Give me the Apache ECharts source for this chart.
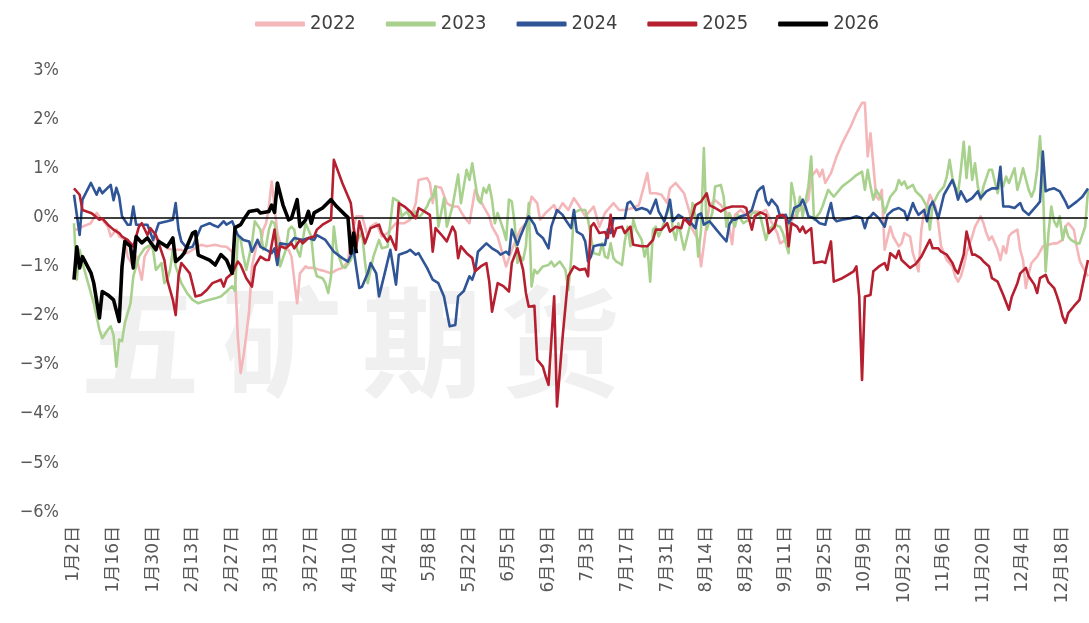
<!DOCTYPE html>
<html>
<head>
<meta charset="utf-8">
<script src="https://cdn.jsdelivr.net/npm/echarts@6/dist/echarts.min.js"></script>
<style>html,body{margin:0;padding:0;background:#fff;}#c{width:1089px;height:623px;}</style>
</head>
<body>
<div id="c"></div>
<script>
// Categories: calendar days (non-leap year) starting 1月2日, 360 days
const startMonth = 1, startDay = 2, dayCount = 360;
const labelStep = 14;
const seriesNames = ['2022', '2023', '2024', '2025', '2026'];
const yTicks = [-6, -5, -4, -3, -2, -1, 0, 1, 2, 3];

// Values in %, as [day index from 1月2日, value]
const s2022 = [[0,-0.25],[1,-0.25],[3,-0.19],[6,-0.12],[8,0.09],[10,-0.05],[12,-0.19],[13,-0.39],[15,-0.25],[16,-0.39],[18,-0.46],[19,-0.8],[21,-1.0],[22,-0.8],[24,-1.27],[25,-0.8],[27,-0.59],[29,-0.39],[31,-0.53],[33,-0.63],[35,-0.66],[38,-0.66],[40,-0.73],[42,-0.66],[45,-0.56],[47,-0.59],[50,-0.56],[52,-0.59],[54,-0.6],[56,-0.7],[57,-1.14],[58,-2.43],[59,-3.17],[60,-2.83],[61,-2.4],[62,-1.9],[63,-1.0],[65,-0.46],[66,-0.59],[67,-0.25],[68,-0.12],[69,0.22],[70,0.73],[71,0.22],[72,-0.32],[73,-0.53],[75,-0.66],[76,-0.66],[77,-0.8],[79,-1.75],[80,-1.14],[82,-1.0],[83,-1.03],[85,-1.03],[87,-1.07],[89,-1.1],[91,-1.14],[93,-1.07],[95,-1.03],[97,-0.9],[98,-0.39],[100,0.02],[102,0.02],[104,-0.39],[105,-0.19],[107,-0.12],[109,-0.39],[111,-0.32],[112,-0.25],[114,-0.12],[117,-0.12],[119,-0.05],[121,0.29],[122,0.76],[125,0.8],[126,0.7],[127,0.29],[128,0.63],[130,0.6],[132,0.29],[134,0.22],[136,0.22],[138,0.02],[140,-0.12],[141,0.22],[142,0.56],[145,0.22],[147,0.02],[148,-0.19],[150,-0.39],[152,-0.8],[153,-1.0],[155,-0.66],[157,-0.39],[158,-0.25],[160,-0.12],[162,0.42],[164,0.29],[165,-0.05],[167,0.09],[170,0.25],[171,0.09],[173,0.29],[175,0.15],[177,0.39],[179,0.22],[181,0.02],[184,0.22],[186,-0.19],[188,0.09],[191,0.29],[193,0.15],[195,0.15],[198,0.19],[200,0.25],[203,0.9],[204,0.49],[206,0.49],[208,0.46],[210,0.29],[211,0.59],[213,0.7],[214,0.63],[216,0.49],[218,0.09],[219,-0.25],[221,-0.46],[222,-1.0],[224,-0.12],[225,0.25],[227,0.35],[229,0.25],[231,0.1],[233,-0.55],[234,0.05],[236,0.15],[238,0.05],[240,0.12],[242,0.12],[243,0.09],[245,0.15],[246,0.02],[247,-0.1],[249,-0.32],[250,-0.53],[252,-0.46],[253,-0.15],[256,0.09],[258,0.22],[260,0.36],[261,0.83],[263,0.97],[264,0.83],[265,0.97],[266,0.7],[268,0.9],[270,1.24],[272,1.51],[275,1.85],[277,2.12],[279,2.33],[280,2.33],[281,1.24],[282,1.71],[284,0.42],[285,0.36],[286,0.56],[287,-0.66],[289,-0.19],[290,-0.39],[292,-0.59],[293,-0.53],[294,-0.32],[296,-0.39],[297,-0.73],[299,-1.1],[300,-0.25],[301,0.12],[302,0.22],[303,0.46],[305,0.22],[306,-0.12],[307,-0.59],[308,-0.73],[309,-0.87],[311,-1.0],[312,-1.2],[313,-1.31],[314,-1.2],[315,-1.0],[316,-0.73],[318,-0.39],[319,-0.19],[321,0.02],[322,-0.12],[323,-0.32],[324,-0.46],[325,-0.39],[327,-0.66],[328,-0.87],[329,-0.59],[330,-0.73],[331,-0.39],[332,-0.32],[334,-0.25],[335,-0.66],[336,-0.87],[337,-1.44],[338,-1.14],[339,-0.93],[341,-0.8],[342,-0.7],[343,-0.59],[345,-0.56],[347,-0.53],[348,-0.53],[350,-0.46],[351,-0.19],[352,-0.12],[354,-0.25],[355,-0.59],[356,-0.87],[357,-1.0],[359,-1.2]];

const s2023 = [[0,-0.12],[1,-1.27],[2,-0.66],[3,-0.93],[5,-1.34],[7,-1.75],[9,-2.29],[10,-2.46],[12,-2.29],[13,-2.22],[14,-2.4],[15,-3.04],[16,-2.49],[17,-2.52],[18,-2.15],[20,-1.75],[21,-1.2],[23,-0.8],[25,-0.63],[27,-0.56],[28,-0.66],[29,-1.07],[31,-0.93],[32,-1.34],[33,-1.27],[34,-1.07],[35,-0.66],[36,-1.0],[38,-1.34],[40,-1.54],[42,-1.68],[44,-1.75],[46,-1.71],[48,-1.68],[50,-1.65],[52,-1.61],[54,-1.51],[56,-1.4],[57,-1.5],[58,-0.39],[59,-0.45],[60,-0.8],[61,-1.07],[63,-0.53],[64,-0.08],[66,-0.25],[67,-0.66],[68,-0.59],[69,-0.25],[70,-0.08],[71,-0.12],[72,-0.46],[73,-1.0],[75,-0.66],[76,-0.25],[77,-0.19],[78,-0.25],[79,-0.66],[80,-0.8],[81,-0.46],[82,-0.12],[84,-0.39],[85,-1.0],[86,-1.2],[88,-1.24],[89,-1.34],[90,-1.54],[91,-1.2],[92,-0.19],[93,-0.66],[95,-1.0],[96,-1.03],[98,-0.87],[100,-0.5],[102,-0.3],[103,-0.9],[104,-1.34],[106,-0.8],[108,-0.46],[109,-0.63],[111,-0.6],[113,0.39],[115,0.32],[116,0.02],[118,0.12],[119,-0.02],[121,0.12],[122,0.0],[123,0.05],[125,0.22],[126,0.36],[127,0.42],[128,0.63],[129,-0.19],[130,0.09],[131,0.39],[132,-0.19],[134,0.22],[136,0.87],[137,0.29],[138,0.63],[139,0.97],[140,0.76],[141,1.1],[143,0.36],[144,0.29],[145,0.6],[146,0.5],[147,0.66],[148,0.36],[149,-0.12],[150,0.09],[152,-0.25],[153,-0.46],[154,0.36],[155,0.32],[156,-0.12],[157,-0.93],[158,-0.8],[159,-0.87],[160,-0.59],[161,0.29],[162,-1.41],[163,-1.07],[164,-1.14],[166,-1.0],[168,-0.97],[169,-0.9],[170,-1.0],[172,-0.9],[174,-1.07],[175,-1.48],[176,-0.87],[177,0.09],[179,0.15],[181,0.15],[182,-0.05],[183,-0.39],[184,-0.73],[186,-0.76],[187,-0.53],[188,-0.8],[189,-0.83],[190,-0.53],[191,-0.83],[192,-0.9],[193,-0.93],[194,-0.97],[195,-0.49],[196,-0.19],[197,-0.59],[198,-0.05],[199,-0.25],[201,-0.46],[202,-0.8],[203,-0.59],[204,-1.31],[205,-0.25],[206,-0.19],[207,-0.39],[208,-0.25],[210,0.09],[211,0.29],[212,-0.25],[213,-0.46],[214,-0.12],[215,-0.39],[216,-0.66],[218,-0.19],[219,0.29],[220,0.02],[221,-0.8],[222,-0.25],[223,1.41],[224,-0.25],[226,0.09],[227,0.63],[229,0.66],[230,0.42],[231,-0.19],[232,0.09],[234,-0.19],[235,0.05],[237,-0.12],[238,-0.08],[239,-0.05],[240,0.09],[242,0.09],[243,0.02],[245,-0.46],[246,-0.25],[248,-0.15],[250,-0.19],[251,-0.32],[253,-0.73],[254,0.7],[255,0.42],[256,0.02],[257,0.42],[258,0.02],[260,0.63],[261,1.24],[262,-0.05],[264,0.09],[265,0.22],[267,0.56],[269,0.42],[272,0.63],[275,0.76],[277,0.86],[279,0.93],[280,0.56],[281,0.97],[282,0.63],[283,0.36],[284,0.56],[286,0.36],[287,0.09],[289,0.42],[291,0.56],[292,0.76],[293,0.66],[294,0.73],[295,0.59],[297,0.66],[298,0.53],[300,0.42],[302,0.22],[303,-0.25],[304,0.25],[306,0.49],[308,0.63],[309,0.83],[310,1.17],[311,0.8],[312,0.63],[313,0.49],[314,0.97],[315,1.54],[316,0.8],[317,1.44],[318,0.76],[319,1.1],[320,0.63],[321,0.36],[322,0.63],[324,0.97],[325,0.97],[326,0.73],[327,0.49],[328,0.76],[329,0.63],[330,0.83],[331,0.7],[333,1.0],[334,0.56],[335,0.76],[336,1.0],[338,0.56],[339,0.42],[340,0.56],[341,0.97],[342,1.65],[343,0.7],[344,-1.1],[345,-0.32],[346,0.22],[347,-0.08],[348,-0.19],[349,0.02],[350,-0.46],[351,-0.19],[352,-0.39],[353,-0.46],[355,-0.53],[356,-0.53],[358,-0.19],[359,0.56]];

const s2024 = [[0,0.46],[2,-0.36],[3,0.36],[6,0.7],[8,0.46],[9,0.6],[10,0.49],[13,0.66],[14,0.35],[15,0.6],[16,0.42],[17,0.02],[19,-0.15],[20,-0.15],[21,0.22],[22,-0.15],[26,-0.15],[28,-0.46],[30,-0.12],[33,-0.08],[35,-0.05],[36,0.29],[37,-0.25],[38,-0.49],[40,-0.63],[42,-0.6],[45,-0.19],[48,-0.12],[49,-0.15],[51,-0.2],[53,-0.08],[54,-0.15],[56,-0.08],[58,-0.36],[60,-0.46],[62,-0.49],[63,-0.7],[65,-0.46],[66,-0.6],[68,-0.66],[70,-0.73],[71,-0.63],[72,-0.97],[73,-0.53],[76,-0.56],[78,-0.42],[81,-0.46],[83,-0.42],[85,-0.46],[86,-0.36],[89,-0.46],[92,-0.7],[95,-0.83],[97,-0.9],[99,-0.66],[101,-1.44],[102,-1.41],[104,-1.14],[105,-0.93],[107,-1.14],[108,-1.61],[110,-1.14],[112,-0.66],[114,-1.37],[115,-0.76],[118,-0.7],[119,-0.66],[121,-0.76],[122,-0.73],[123,-0.83],[125,-1.03],[127,-1.27],[129,-1.34],[131,-1.61],[133,-2.22],[135,-2.19],[136,-1.61],[138,-1.5],[140,-1.2],[141,-1.27],[142,-1.1],[143,-0.7],[146,-0.53],[148,-0.63],[150,-0.7],[151,-0.76],[153,-0.7],[154,-0.76],[155,-0.25],[157,-0.56],[158,-0.39],[161,0.02],[163,-0.15],[164,-0.32],[166,-0.42],[168,-0.63],[169,-0.19],[171,0.15],[173,0.05],[174,-0.05],[176,-0.22],[177,0.15],[178,-0.29],[180,-0.36],[181,-0.49],[182,-0.9],[183,-0.8],[184,-0.59],[186,-0.56],[188,-0.56],[189,-0.25],[190,-0.32],[191,-0.02],[193,-0.02],[195,-0.02],[196,0.29],[197,0.32],[199,0.15],[201,0.19],[203,0.15],[204,0.08],[206,0.36],[207,0.12],[209,-0.08],[210,0.12],[211,0.36],[212,-0.08],[214,0.05],[216,-0.02],[218,-0.08],[220,-0.22],[221,0.05],[222,0.08],[223,-0.15],[225,-0.08],[227,-0.22],[229,-0.36],[231,-0.49],[232,-0.15],[233,-0.05],[234,-0.05],[236,0.02],[238,0.05],[240,0.15],[242,0.53],[243,0.59],[244,0.63],[245,0.34],[246,0.25],[247,0.36],[249,0.22],[250,0.02],[252,0.05],[253,-0.12],[254,-0.02],[255,0.19],[257,0.25],[258,0.36],[259,0.22],[260,0.02],[262,-0.02],[264,-0.12],[266,-0.15],[267,0.09],[268,0.29],[269,-0.02],[270,-0.08],[272,-0.05],[275,-0.02],[277,0.02],[279,-0.02],[280,-0.22],[281,-0.02],[282,0.02],[283,0.09],[285,-0.02],[287,-0.19],[288,0.05],[290,0.15],[292,0.19],[294,0.12],[295,-0.05],[297,0.29],[298,0.15],[299,0.05],[301,0.15],[302,-0.08],[303,0.22],[304,0.32],[305,0.15],[306,-0.02],[308,0.46],[311,0.76],[312,0.59],[313,0.36],[314,0.53],[316,0.32],[318,0.39],[320,0.53],[321,0.39],[323,0.53],[325,0.59],[327,0.59],[328,1.03],[329,0.22],[331,0.22],[333,0.19],[335,0.29],[336,0.15],[338,0.05],[341,0.25],[342,0.32],[343,1.34],[344,0.53],[345,0.56],[347,0.59],[349,0.53],[351,0.32],[352,0.19],[355,0.32],[357,0.42],[359,0.59]];

const s2025 = [[0,0.59],[2,0.46],[3,0.15],[6,0.09],[7,0.05],[9,-0.05],[10,-0.02],[12,-0.15],[14,-0.25],[16,-0.32],[17,-0.39],[19,-0.46],[21,-0.59],[23,-0.19],[24,-0.12],[26,-0.36],[27,-0.22],[29,-0.36],[30,-0.53],[32,-0.87],[33,-1.27],[35,-1.68],[36,-1.99],[37,-1.2],[38,-0.93],[39,-1.0],[41,-1.14],[42,-1.37],[43,-1.61],[45,-1.58],[47,-1.48],[49,-1.34],[52,-1.27],[53,-1.41],[54,-1.24],[56,-1.14],[58,-0.9],[59,-0.97],[61,-1.24],[63,-1.41],[64,-1.0],[66,-0.8],[68,-0.87],[69,-0.87],[71,-0.25],[72,-0.8],[73,-0.59],[75,-0.63],[77,-0.53],[78,-0.63],[80,-0.46],[81,-0.53],[83,-0.42],[85,-0.39],[86,-0.25],[88,-0.15],[91,-0.05],[92,1.17],[95,0.7],[98,0.29],[99,-0.19],[100,-0.59],[101,-0.08],[103,-0.53],[105,-0.22],[108,-0.15],[109,-0.32],[111,-0.49],[112,-0.39],[114,-0.66],[115,0.29],[117,0.22],[119,0.12],[121,-0.02],[122,0.19],[124,0.12],[126,0.05],[127,-0.7],[128,-0.22],[130,-0.35],[132,-0.49],[134,-0.19],[135,-0.3],[136,-0.83],[137,-0.59],[139,-0.73],[141,-0.83],[142,-1.1],[144,-1.0],[146,-0.93],[147,-1.3],[148,-1.92],[150,-1.34],[152,-1.4],[154,-1.51],[155,-0.93],[157,-0.63],[159,-1.07],[160,-1.54],[161,-1.82],[163,-1.8],[164,-2.9],[166,-3.04],[167,-3.24],[168,-3.41],[170,-1.61],[171,-3.85],[173,-2.43],[175,-1.2],[177,-1.0],[179,-1.07],[181,-1.05],[182,-1.2],[183,-0.19],[184,-0.12],[186,-0.32],[188,-0.3],[189,-0.42],[190,0.05],[191,-0.39],[192,-0.22],[194,-0.19],[195,-0.32],[197,-0.19],[198,-0.56],[201,-0.59],[203,-0.59],[205,-0.46],[206,-0.25],[208,-0.25],[210,-0.12],[211,-0.29],[213,-0.19],[215,-0.22],[216,-0.02],[218,-0.15],[219,0.05],[220,0.25],[222,0.32],[224,0.49],[225,0.25],[227,0.19],[229,0.12],[231,0.19],[233,0.22],[235,0.22],[237,0.22],[238,0.19],[240,-0.25],[241,0.02],[243,0.1],[245,0.05],[246,-0.32],[248,-0.2],[249,0.02],[251,0.05],[252,-0.02],[253,-0.59],[254,-0.12],[256,-0.19],[257,-0.29],[258,-0.19],[259,-0.32],[261,-0.22],[262,-0.93],[265,-0.9],[266,-0.93],[268,-0.49],[269,-1.31],[272,-1.24],[274,-1.17],[276,-1.1],[277,-1.0],[278,-1.61],[279,-3.31],[280,-1.61],[282,-1.58],[283,-1.1],[285,-1.0],[287,-0.93],[288,-1.07],[289,-0.73],[291,-0.83],[292,-0.68],[293,-0.87],[296,-1.03],[298,-0.95],[300,-0.8],[302,-0.57],[303,-0.46],[304,-0.63],[306,-0.63],[307,-0.7],[309,-0.76],[311,-0.93],[312,-1.07],[313,-1.14],[315,-0.76],[316,-0.29],[318,-0.76],[319,-0.76],[321,-0.83],[322,-0.9],[324,-1.0],[325,-1.24],[327,-1.31],[329,-1.58],[331,-1.88],[332,-1.62],[334,-1.34],[335,-1.14],[337,-1.03],[338,-1.2],[340,-1.37],[341,-1.54],[342,-1.24],[344,-1.17],[345,-1.32],[347,-1.44],[348,-1.6],[349,-1.78],[350,-2.02],[351,-2.15],[352,-1.95],[354,-1.81],[356,-1.68],[357,-1.41],[359,-0.87]];

const s2026 = [[0,-1.27],[1,-0.6],[2,-1.03],[3,-0.8],[6,-1.13],[7,-1.34],[9,-2.05],[10,-1.51],[12,-1.58],[14,-1.68],[16,-2.12],[17,-1.0],[18,-0.49],[20,-0.59],[21,-1.03],[22,-0.39],[24,-0.52],[26,-0.42],[29,-0.66],[30,-0.49],[33,-0.6],[35,-0.42],[36,-0.9],[38,-0.8],[39,-0.73],[42,-0.32],[43,-0.29],[44,-0.77],[48,-0.87],[50,-0.97],[52,-0.76],[54,-0.87],[56,-1.14],[57,-0.21],[59,-0.15],[60,-0.05],[62,0.12],[65,0.15],[66,0.09],[69,0.12],[70,0.25],[71,0.1],[72,0.7],[74,0.25],[76,-0.05],[77,-0.02],[79,0.36],[80,-0.19],[82,-0.05],[83,0.12],[84,-0.12],[85,0.09],[88,0.19],[91,0.36],[93,0.22],[96,0.05],[97,0.0],[98,-0.73],[99,-0.32],[100,-0.73]];

const seriesData = [s2022, s2023, s2024, s2025, s2026];
const colors = ['#F4B6B9', '#A9D18E', '#2F5597', '#B51F2F', '#000000'];
const widths = [2.6, 2.6, 2.6, 2.6, 3.6];

// build category labels
const dates = [];
{
  const d = new Date(2023, startMonth - 1, startDay);
  for (let i = 0; i < dayCount; i++) {
    dates.push((d.getMonth() + 1) + '月' + d.getDate() + '日');
    d.setDate(d.getDate() + 1);
  }
}

const chart = echarts.init(document.getElementById('c'), null, {renderer: 'canvas'});
const wmChars = ['五', '矿', '期', '货'];
const wmX = [80, 222, 362, 500];

const series = seriesNames.map((n, i) => ({
  name: n,
  type: 'line',
  data: seriesData[i],
  showSymbol: false,
  symbol: 'none',
  connectNulls: true,
  smooth: false,
  z: 2 + i,
  lineStyle: {color: colors[i], width: widths[i], join: 'round'},
  itemStyle: {color: colors[i]},
  emphasis: {disabled: true}
}));
series.push({
  name: 'zero',
  type: 'line',
  data: [],
  z: 6,
  markLine: {
    silent: true,
    symbol: 'none',
    label: {show: false},
    lineStyle: {color: '#000', width: 1.6, type: 'solid'},
    data: [{yAxis: 0}]
  }
});

chart.setOption({
  animation: false,
  backgroundColor: '#ffffff',
  graphic: wmChars.map((c, i) => ({
    type: 'text', left: wmX[i], top: 282, z: -10, silent: true,
    style: {text: c, fontSize: 120, fill: '#f0f0f0', fontFamily: 'Noto Sans CJK SC', fontWeight: 'bold'}
  })),
  legend: {
    data: seriesNames,
    top: 9,
    left: 250,
    itemWidth: 50,
    itemHeight: 5,
    itemGap: 30,
    icon: 'roundRect',
    textStyle: {fontSize: 20, color: '#404040', fontFamily: "'Liberation Sans Narrow', 'DejaVu Sans Condensed', sans-serif"}
  },
  grid: {left: 74, right: 1, top: 70, bottom: 111, containLabel: false},
  xAxis: {
    type: 'category',
    data: dates,
    boundaryGap: false,
    axisLine: {show: false},
    axisTick: {show: false},
    splitLine: {show: false},
    axisLabel: {
      interval: labelStep - 1,
      rotate: 90,
      fontSize: 17,
      margin: 14,
      color: '#595959',
      fontFamily: "'DejaVu Sans', 'Noto Sans CJK SC', sans-serif"
    }
  },
  yAxis: {
    type: 'value',
    min: yTicks[0],
    max: yTicks[yTicks.length - 1],
    interval: 1,
    axisLine: {show: false},
    axisTick: {show: false},
    splitLine: {show: false},
    axisLabel: {
      margin: 15,
      fontSize: 18,
      color: '#595959',
      fontFamily: "'Liberation Sans Narrow', 'DejaVu Sans Condensed', sans-serif",
      formatter: v => (v < 0 ? '\u2212' + (-v) : String(v)) + '%'
    }
  },
  series: series
});
</script>
</body>
</html>
